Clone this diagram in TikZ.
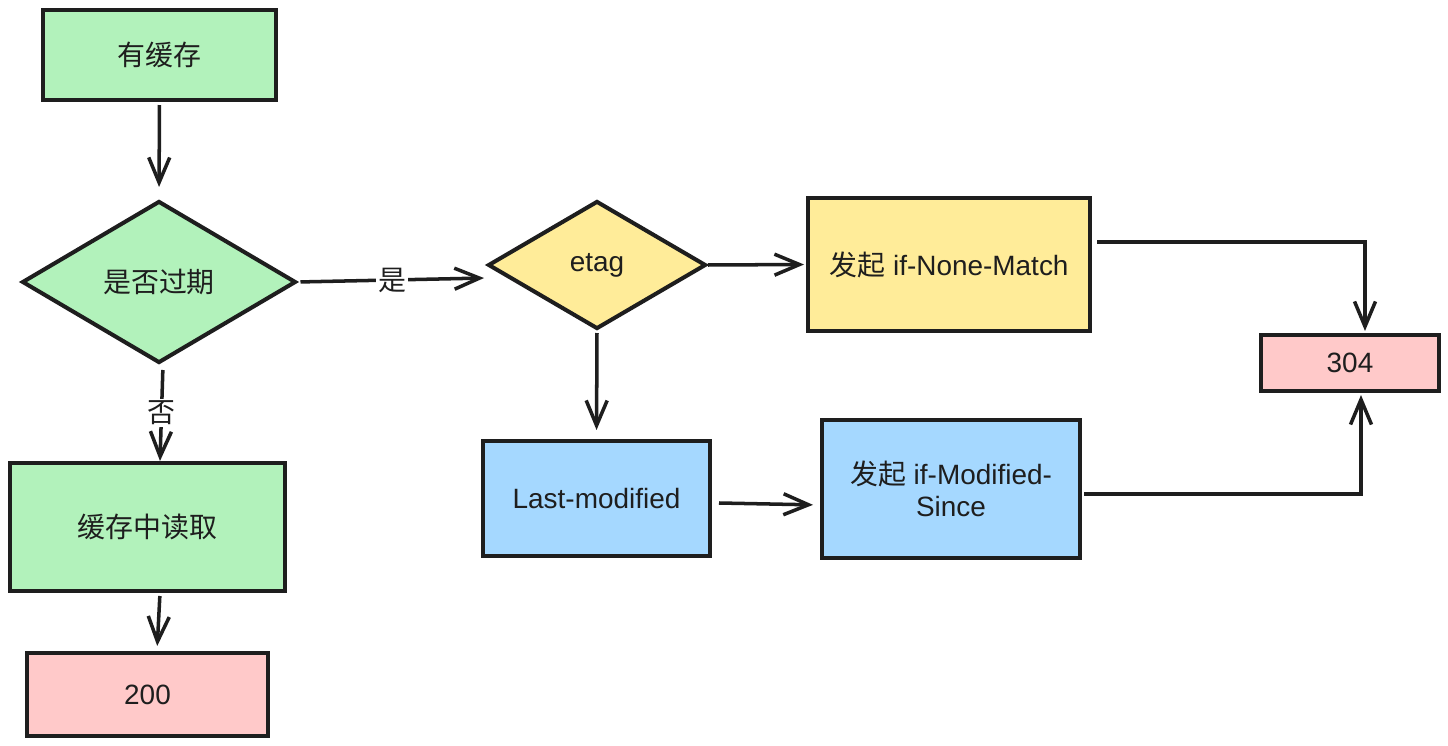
\documentclass[tikz,border=0pt]{standalone}
\usepackage{fontspec}
\setmainfont{Liberation Sans}
\newfontfamily\cjk{Noto Sans CJK SC}
\usetikzlibrary{arrows.meta,shapes.geometric,calc}
\definecolor{ink}{HTML}{1E1E1E}
\definecolor{fgreen}{HTML}{B2F2BB}
\definecolor{fyellow}{HTML}{FFEC99}
\definecolor{fblue}{HTML}{A5D8FF}
\definecolor{fpink}{HTML}{FFC9C9}
\tikzset{
  every node/.style={font=\fontsize{15.9pt}{18.2pt}\selectfont, text=ink},
  boxnode/.style={draw=ink, line width=2.3pt, rectangle, inner sep=0pt, align=center},
  dianode/.style={draw=ink, line width=2.3pt, diamond, inner sep=0pt},
  arr/.style={draw=ink, line width=2pt, -{Straight Barb[length=0.5cm,width=0.42cm,line width=2pt]}},
  plainline/.style={draw=ink, line width=2pt},
  lbl/.style={fill=white, inner sep=1pt}
}
\begin{document}
\begin{tikzpicture}[x=0.02cm,y=-0.02cm]
\useasboundingbox (0,0) rectangle (1448,746);
% nodes
\node[boxnode, fill=fgreen, minimum width=4.66cm, minimum height=1.8cm] (c1) at (159.5,55) {\cjk 有缓存};
\node[dianode, fill=fgreen, minimum width=5.48cm, minimum height=3.24cm] (d1) at (159,282) {\cjk 是否过期};
\node[dianode, fill=fyellow, minimum width=4.36cm, minimum height=2.56cm] (d2) at (597,265) {etag};
\node[boxnode, fill=fyellow, minimum width=5.64cm, minimum height=2.66cm] (y1) at (949,264.5) {{\cjk 发起} if-None-Match};
\node[boxnode, fill=fpink, minimum width=3.56cm, minimum height=1.12cm] (p304) at (1350,363) {304};
\node[boxnode, fill=fblue, minimum width=4.54cm, minimum height=2.3cm] (b1) at (596.5,498.5) {Last-modified};
\node[boxnode, fill=fblue, minimum width=5.16cm, minimum height=2.76cm] (b2) at (951,489) {{\cjk 发起} if-Modified-\\Since};
\node[boxnode, fill=fgreen, minimum width=5.5cm, minimum height=2.56cm] (g2) at (147.5,527) {\cjk 缓存中读取};
\node[boxnode, fill=fpink, minimum width=4.82cm, minimum height=1.66cm] (p200) at (147.5,694.5) {200};
% connectors
\draw[arr, shorten <=0.06cm, shorten >=0.24cm] (c1.south) -- (d1.north);
\draw[arr, shorten <=0.05cm, shorten >=0.04cm] (d1.east) -- node[lbl, pos=0.5] {\cjk 是} ([yshift=-0.26cm]d2.west);
\draw[arr, shorten >=0.04cm] (d2.east) -- (y1.west);
\draw[arr, shorten >=0.04cm] ([xshift=0.1cm,yshift=0.45cm]y1.east) -| ([xshift=0.3cm]p304.north);
\draw[arr, shorten <=0.04cm, shorten >=0.18cm] (d2.south) -- (b1.north);
\draw[arr, shorten >=0.14cm] ([xshift=0.14cm,yshift=-0.09cm]b1.east) -- ([yshift=-0.32cm]b2.west);
\draw[arr, shorten >=0.04cm] ([xshift=0.04cm,yshift=-0.1cm]b2.east) -| ([xshift=0.22cm]p304.south);
\draw[arr, shorten <=0.1cm] ([xshift=0.08cm]d1.south) -- node[lbl, pos=0.5] {\cjk 否} ([xshift=0.25cm]g2.north);
\draw[arr, shorten <=0.06cm, shorten >=0.1cm] ([xshift=0.25cm]g2.south) -- ([xshift=0.19cm]p200.north);
\end{tikzpicture}
\end{document}
